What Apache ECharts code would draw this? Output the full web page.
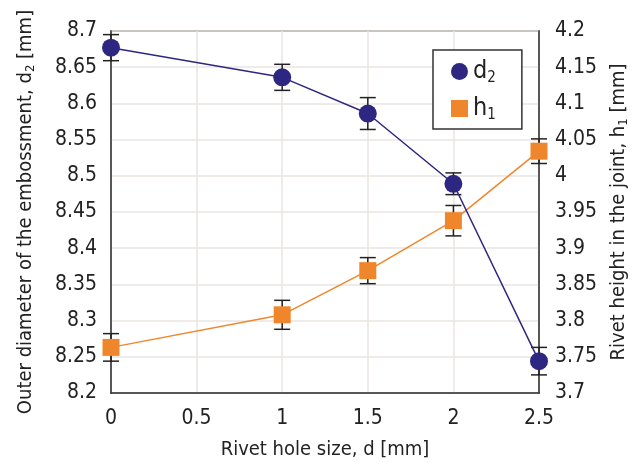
<!DOCTYPE html>
<html>
<head>
<meta charset="utf-8">
<script src="https://cdn.jsdelivr.net/npm/echarts@6/dist/echarts.min.js"></script>
<style>html,body{margin:0;padding:0;background:#fff}#c{width:643px;height:465px}</style>
</head>
<body>
<div id="c"></div>
<script>
var xValues = [0, 1, 1.5, 2, 2.5];
var d2Values = [8.677, 8.636, 8.586, 8.489, 8.244];
var d2Err = [0.018, 0.018, 0.022, 0.015, 0.019];
var h1Values = [3.763, 3.808, 3.869, 3.938, 4.034];
var h1Err = [0.019, 0.020, 0.018, 0.021, 0.017];
var xTicks = {min: 0, max: 2.5, interval: 0.5};
var leftTicks = {min: 8.2, max: 8.7, interval: 0.05};
var rightTicks = {min: 3.7, max: 4.2, interval: 0.05};

var FONT = '"Liberation Sans Narrow", "DejaVu Sans Condensed", "Liberation Sans", Arial, sans-serif';
var NAVY = '#2e2781';
var ORANGE = '#f0862b';
var TXT = '#222';

function pairs(xs, ys) { return xs.map(function (x, i) { return [x, ys[i]]; }); }
function errData(xs, ys, es) { return xs.map(function (x, i) { return [x, ys[i] - es[i], ys[i] + es[i]]; }); }

function errRender(params, api) {
  var x = api.value(0);
  var lo = api.coord([x, api.value(1)]);
  var hi = api.coord([x, api.value(2)]);
  var w = 8;
  var st = {stroke: '#222', lineWidth: 1.5};
  return {
    type: 'group',
    children: [
      {type: 'line', shape: {x1: lo[0], y1: lo[1], x2: hi[0], y2: hi[1]}, style: st},
      {type: 'line', shape: {x1: lo[0] - w, y1: lo[1], x2: lo[0] + w, y2: lo[1]}, style: st},
      {type: 'line', shape: {x1: hi[0] - w, y1: hi[1], x2: hi[0] + w, y2: hi[1]}, style: st}
    ]
  };
}

var axisLabel = {color: TXT, fontSize: 21, fontFamily: FONT};
var splitLine = {show: true, lineStyle: {color: '#e8e4e0', width: 1.5}};
var nameStyle = {color: TXT, fontSize: 20, fontFamily: FONT,
  rich: {s: {fontSize: 13, fontFamily: FONT, color: TXT, padding: [10, 0, 0, 0]}}};

var chart = echarts.init(document.getElementById('c'));
chart.setOption({
  animation: false,
  grid: {left: 111, right: 104, top: 31, bottom: 71, show: true, borderColor: '#333', borderWidth: 1.5, backgroundColor: 'transparent'},
  legend: {
    orient: 'vertical', left: 433, top: 50,
    padding: [9, 26, 6, 18], itemGap: 10,
    borderColor: '#333', borderWidth: 1.5, backgroundColor: '#fff',
    itemWidth: 17, itemHeight: 17,
    data: [{name: 'd2', icon: 'circle'}, {name: 'h1', icon: 'rect'}],
    formatter: function (n) { return n.charAt(0) + '{s|' + n.charAt(1) + '}'; },
    textStyle: {color: TXT, fontSize: 25, fontFamily: FONT,
      rich: {s: {fontSize: 15, fontFamily: FONT, color: TXT, padding: [14, 0, 0, 0]}}}
  },
  xAxis: {
    type: 'value', min: xTicks.min, max: xTicks.max, interval: xTicks.interval,
    name: 'Rivet hole size, d [mm]', nameLocation: 'middle', nameGap: 47,
    nameTextStyle: nameStyle,
    axisLine: {show: true, lineStyle: {color: '#333', width: 1.5}},
    axisTick: {show: false},
    axisLabel: Object.assign({margin: 15}, axisLabel),
    splitLine: splitLine
  },
  yAxis: [{
    type: 'value', min: leftTicks.min, max: leftTicks.max, interval: leftTicks.interval,
    name: 'Outer diameter of the embossment, d{s|2} [mm]', nameLocation: 'middle', nameGap: 74, nameRotate: 90,
    nameTextStyle: nameStyle,
    axisLine: {show: true, lineStyle: {color: '#333', width: 1.5}},
    axisTick: {show: false},
    axisLabel: Object.assign({margin: 14}, axisLabel),
    splitLine: splitLine
  }, {
    type: 'value', min: rightTicks.min, max: rightTicks.max, interval: rightTicks.interval,
    position: 'right',
    name: 'Rivet height in the joint, h{s|1} [mm]', nameLocation: 'middle', nameGap: 68, nameRotate: 90,
    nameTextStyle: nameStyle,
    axisLine: {show: true, lineStyle: {color: '#333', width: 1.5}},
    axisTick: {show: false},
    axisLabel: Object.assign({margin: 16}, axisLabel),
    splitLine: {show: false}
  }],
  series: [
    {type: 'custom', yAxisIndex: 0, renderItem: errRender, data: errData(xValues, d2Values, d2Err), z: 1, silent: true},
    {type: 'custom', yAxisIndex: 1, renderItem: errRender, data: errData(xValues, h1Values, h1Err), z: 1, silent: true},
    {name: 'h1', type: 'line', yAxisIndex: 1, data: pairs(xValues, h1Values), symbol: 'rect', symbolSize: 17,
      lineStyle: {color: ORANGE, width: 1.5}, itemStyle: {color: ORANGE}, z: 3},
    {name: 'd2', type: 'line', yAxisIndex: 0, data: pairs(xValues, d2Values), symbol: 'circle', symbolSize: 18,
      lineStyle: {color: NAVY, width: 1.5}, itemStyle: {color: NAVY}, z: 4}
  ]
});
</script>
</body>
</html>
